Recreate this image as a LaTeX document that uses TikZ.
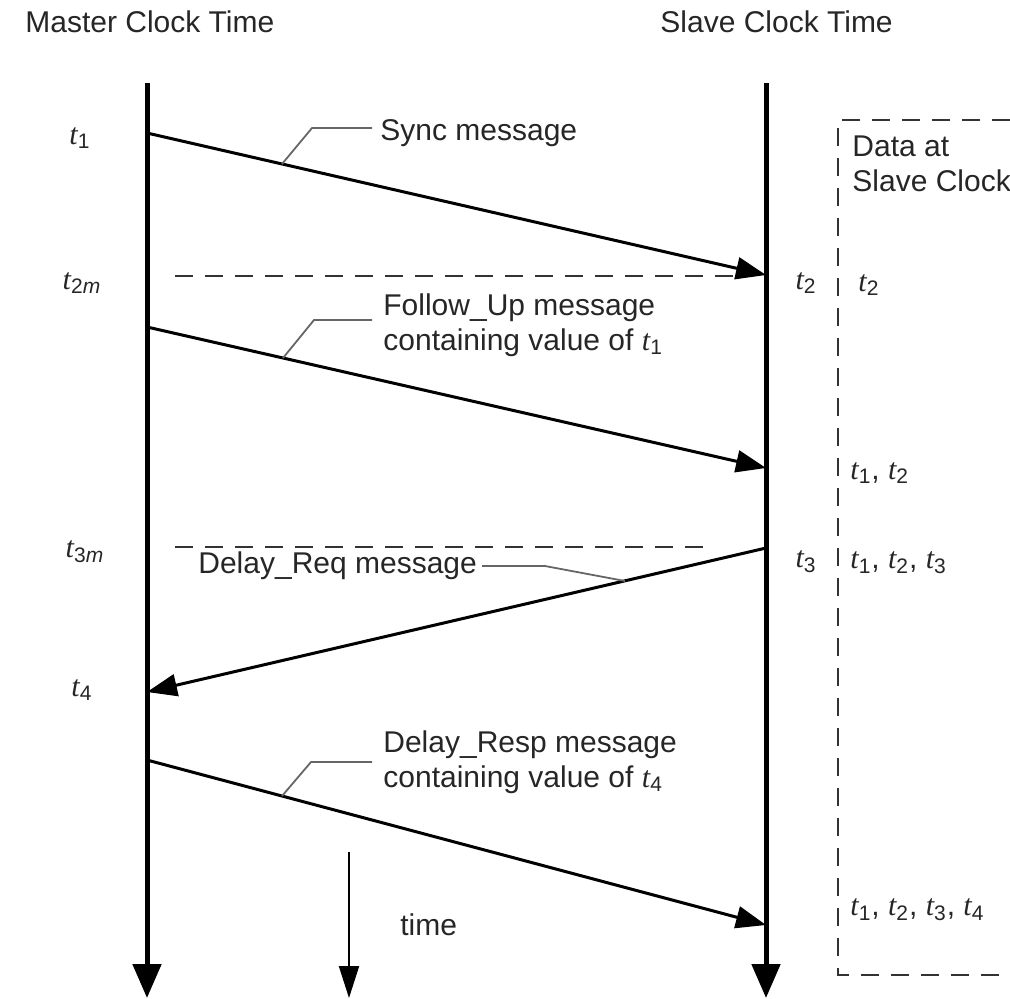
\documentclass[tikz,border=0pt]{standalone}
\usepackage{fontspec}
\setmainfont{Liberation Sans}
\newfontfamily\tserif{Liberation Serif}
\usetikzlibrary{arrows.meta}
\newcommand{\tv}[1]{{\tserif\itshape t}\textsubscript{#1}}
\begin{document}
\begin{tikzpicture}[x=0.5pt,y=-0.5pt,
  lbl/.style={font=\fontsize{15}{17.5}\selectfont, inner sep=0pt, anchor=west, align=left, text=black!85},
  tl/.style={font=\fontsize{15}{17.5}\selectfont, inner sep=0pt, text=black!85},
  life/.style={line width=2.5pt,-{Triangle[length=17pt,width=14pt]}},
  msg/.style={line width=1.5pt,-{Triangle[length=15pt,width=11pt]}},
  tarrow/.style={line width=1pt,-{Triangle[length=16pt,width=10pt]}},
  guide/.style={line width=1pt, dash pattern=on 9pt off 6pt, black!80},
  lead/.style={line width=0.9pt, black!60},
]
\useasboundingbox (0,0) rectangle (1010,998);

% lifelines
\coordinate (mtop) at (147,83);
\coordinate (mbot) at (147,998);
\coordinate (stop) at (766,83);
\coordinate (sbot) at (766,998);
\draw[life] (mtop) -- (mbot);
\draw[life] (stop) -- (sbot);

% headers
\node[lbl] (mhead) at (25,22) {Master Clock Time};
\node[lbl] (shead) at (660,22) {Slave Clock Time};

% message end points
\coordinate (m1) at (147,133);
\coordinate (s2) at (766,275);
\coordinate (mf) at (147,327);
\coordinate (sf) at (766,468);
\coordinate (s3) at (766,548);
\coordinate (m4) at (147,692);
\coordinate (mr) at (147,760);
\coordinate (sr) at (766,925);

% dashed guide lines
\coordinate (g2a) at (175,276);
\coordinate (g2b) at (737,276);
\coordinate (g3a) at (175,547);
\coordinate (g3b) at (712,547);
\draw[guide] (g2a) -- (g2b);
\draw[guide] (g3a) -- (g3b);

% messages
\draw[msg] (m1) -- (s2);
\draw[msg] (mf) -- (sf);
\draw[msg] (s3) -- (m4);
\draw[msg] (mr) -- (sr);

% time arrow
\coordinate (ttop) at (349,852);
\coordinate (tbot) at (349,998);
\draw[tarrow] (ttop) -- (tbot);
\node[lbl] (time) at (400,925) {time};

% message labels
\node[lbl] (sync) at (380,133) {Sync message};
\node[lbl] (follow) at (383,325) {Follow\_Up message\\containing value of \tv{1}};
\node[lbl] (dreq) at (198,566) {Delay\_Req message};
\node[lbl] (dresp) at (383,762) {Delay\_Resp message\\containing value of \tv{4}};

% leaders
\coordinate (ls) at (282,164);
\coordinate (lf) at (283,358);
\coordinate (lq) at (625,581);
\coordinate (lr) at (282,796);
\draw[lead] (ls) -- (312,128) -- (372,128);
\draw[lead] (lf) -- (314,320) -- (372,320);
\draw[lead] (lq) -- (545,566) -- (482,566);
\draw[lead] (lr) -- (311,762) -- (372,762);

% master time labels
\node[tl] (t1) at (80,138) {\tv{1}};
\node[tl] (t2m) at (82,283) {\tv{2\emph{m}}};
\node[tl] (t3m) at (85,552) {\tv{3\emph{m}}};
\node[tl] (t4) at (82,690) {\tv{4}};

% slave time labels
\node[tl] (t2) at (806,283) {\tv{2}};
\node[tl] (t3) at (806,562) {\tv{3}};

% data box
\coordinate (ba) at (1010,120);
\coordinate (bb) at (838,120);
\coordinate (bc) at (838,975);
\coordinate (bd) at (1010,975);
\draw[guide] (ba) -- (bb) -- (bc) -- (bd);
\node[lbl] (data) at (852,164) {Data at\\Slave Clock};
\node[lbl] (d1) at (858,285) {\tv{2}};
\node[lbl] (d2) at (850,473) {\tv{1}, \tv{2}};
\node[lbl] (d3) at (850,563) {\tv{1}, \tv{2}, \tv{3}};
\node[lbl] (d4) at (850,910) {\tv{1}, \tv{2}, \tv{3}, \tv{4}};
\end{tikzpicture}
\end{document}
